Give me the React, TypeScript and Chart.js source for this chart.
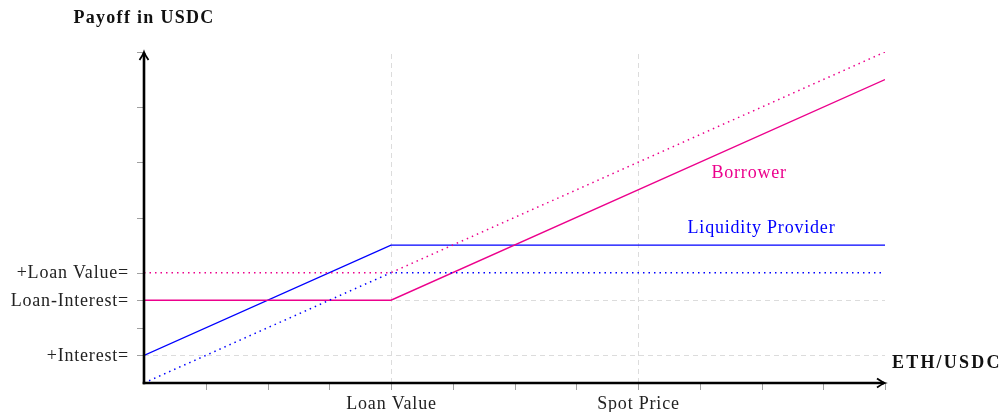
import React, { useEffect, useRef } from "react";
import { Chart, registerables } from "chart.js";

Chart.register(...registerables);

// Data (units of the chart)
const lpSolidX = [0, 4, 12];
const lpSolidY = [1, 5, 5];
const lpDottedX = [0, 4, 12];
const lpDottedY = [0, 4, 4];
const borrowerSolidX = [0, 4, 12];
const borrowerSolidY = [3, 3, 11];
const borrowerDottedX = [0, 4, 12];
const borrowerDottedY = [4, 4, 12];

const xTicks = [1, 2, 3, 4, 5, 6, 7, 8, 9, 10, 11, 12];
const xTickLabels: Record<number, string> = { 4: "Loan Value", 8: "Spot Price" };
const yTicks = [1, 2, 3, 4, 6, 8, 10, 12];
const yTickLabels: Record<number, string> = { 1: "+Interest=", 3: "Loan-Interest=", 4: "+Loan Value=" };
const xGrid = [4, 8];
const yGrid = [1, 3];

const PINK = "#ec008c";
const BLUE = "#0000ff";
const SERIF = "'Liberation Serif', 'DejaVu Serif', serif";

const pts = (xs: number[], ys: number[]) => xs.map((x, i) => ({ x, y: ys[i] }));

const decorPlugin = {
  id: "decor",
  beforeDatasetsDraw(chart: any) {
    const { ctx, scales } = chart;
    const xs = scales.x, ys = scales.y;
    ctx.save();
    ctx.strokeStyle = "#dcdcdc";
    ctx.lineWidth = 1;
    ctx.setLineDash([5, 4]);
    xGrid.forEach((v) => {
      const px = Math.round(xs.getPixelForValue(v)) + 0.5;
      ctx.beginPath();
      ctx.moveTo(px, ys.getPixelForValue(0));
      ctx.lineTo(px, ys.getPixelForValue(12));
      ctx.stroke();
    });
    yGrid.forEach((v) => {
      const py = Math.round(ys.getPixelForValue(v)) + 0.5;
      ctx.beginPath();
      ctx.moveTo(xs.getPixelForValue(0), py);
      ctx.lineTo(xs.getPixelForValue(12), py);
      ctx.stroke();
    });
    ctx.restore();
  },
  afterDatasetsDraw(chart: any) {
    const { ctx, scales } = chart;
    const xs = scales.x, ys = scales.y;
    const x0 = xs.getPixelForValue(0);
    const x1 = xs.getPixelForValue(12);
    const y0 = ys.getPixelForValue(0);
    const y1 = ys.getPixelForValue(12);
    ctx.save();
    // ticks
    ctx.strokeStyle = "#a0a0a0";
    ctx.lineWidth = 1;
    xTicks.forEach((v) => {
      const px = Math.round(xs.getPixelForValue(v)) + 0.5;
      ctx.beginPath();
      ctx.moveTo(px, y0);
      ctx.lineTo(px, y0 + 7);
      ctx.stroke();
    });
    yTicks.forEach((v) => {
      const py = Math.round(ys.getPixelForValue(v)) + 0.5;
      ctx.beginPath();
      ctx.moveTo(x0 - 7, py);
      ctx.lineTo(x0, py);
      ctx.stroke();
    });
    // axes
    ctx.strokeStyle = "#000";
    ctx.lineWidth = 2.6;
    ctx.lineCap = "butt";
    ctx.beginPath();
    ctx.moveTo(x0, y0 + 1.3);
    ctx.lineTo(x0, y1 + 1);
    ctx.stroke();
    ctx.beginPath();
    ctx.moveTo(x0 - 1.3, y0);
    ctx.lineTo(x1 - 1, y0);
    ctx.stroke();
    // arrowheads
    ctx.lineWidth = 1.8;
    ctx.lineJoin = "miter";
    ctx.beginPath();
    ctx.moveTo(x0 - 4.5, y1 + 8);
    ctx.quadraticCurveTo(x0 - 1, y1 + 3, x0, y1);
    ctx.quadraticCurveTo(x0 + 1, y1 + 3, x0 + 4.5, y1 + 8);
    ctx.stroke();
    ctx.beginPath();
    ctx.moveTo(x1 - 8, y0 - 4.5);
    ctx.quadraticCurveTo(x1 - 3, y0 - 1, x1, y0);
    ctx.quadraticCurveTo(x1 - 3, y0 + 1, x1 - 8, y0 + 4.5);
    ctx.stroke();
    // tick labels
    ctx.fillStyle = "#222";
    ctx.font = `18px ${SERIF}`;
    ctx.letterSpacing = "0.8px";
    ctx.textBaseline = "middle";
    ctx.textAlign = "right";
    Object.keys(yTickLabels).forEach((k) => {
      const v = Number(k);
      ctx.fillText(yTickLabels[v], x0 - 15, ys.getPixelForValue(v) + 1);
    });
    ctx.textAlign = "center";
    Object.keys(xTickLabels).forEach((k) => {
      const v = Number(k);
      ctx.fillText(xTickLabels[v], xs.getPixelForValue(v) + 0.5, y0 + 21);
    });
    // axis titles
    ctx.font = `bold 18px ${SERIF}`;
    ctx.fillStyle = "#111";
    ctx.letterSpacing = "1.3px";
    ctx.textAlign = "center";
    ctx.fillText("Payoff in USDC", x0, 18);
    ctx.letterSpacing = "2.2px";
    ctx.textAlign = "left";
    ctx.fillText("ETH/USDC", x1 + 7, y0 - 20);
    // series labels
    ctx.font = `18px ${SERIF}`;
    ctx.letterSpacing = "0.8px";
    ctx.textAlign = "center";
    ctx.fillStyle = PINK;
    ctx.fillText("Borrower", xs.getPixelForValue(9.8), ys.getPixelForValue(7.6));
    ctx.fillStyle = BLUE;
    ctx.fillText("Liquidity Provider", xs.getPixelForValue(10), ys.getPixelForValue(5.6));
    ctx.restore();
  },
};

export default function App() {
  const ref = useRef<HTMLCanvasElement>(null);
  useEffect(() => {
    document.body.style.margin = "0";
    const c = new Chart(ref.current!, {
      type: "line",
      data: {
        datasets: [
          { data: pts(borrowerDottedX, borrowerDottedY), borderColor: PINK, borderWidth: 1.5, borderDash: [1.5, 4], pointRadius: 0, tension: 0 },
          { data: pts(lpDottedX, lpDottedY), borderColor: BLUE, borderWidth: 1.5, borderDash: [1.5, 4], pointRadius: 0, tension: 0 },
          { data: pts(borrowerSolidX, borrowerSolidY), borderColor: PINK, borderWidth: 1.4, pointRadius: 0, tension: 0 },
          { data: pts(lpSolidX, lpSolidY), borderColor: BLUE, borderWidth: 1.4, pointRadius: 0, tension: 0 },
        ] as any,
      },
      options: {
        animation: false,
        responsive: false,
        maintainAspectRatio: false,
        layout: { padding: { left: 144, right: 123, top: 52, bottom: 29 } },
        plugins: { legend: { display: false }, tooltip: { enabled: false } },
        scales: {
          x: { type: "linear", min: 0, max: 12, display: false },
          y: { type: "linear", min: 0, max: 12, display: false },
        },
      },
      plugins: [decorPlugin],
    });
    return () => c.destroy();
  }, []);
  return (
    <div style={{ position: "absolute", left: 0, top: 0, width: 1008, height: 412 }}>
      <canvas ref={ref} width={1008} height={412} style={{ width: 1008, height: 412 }} />
    </div>
  );
}
